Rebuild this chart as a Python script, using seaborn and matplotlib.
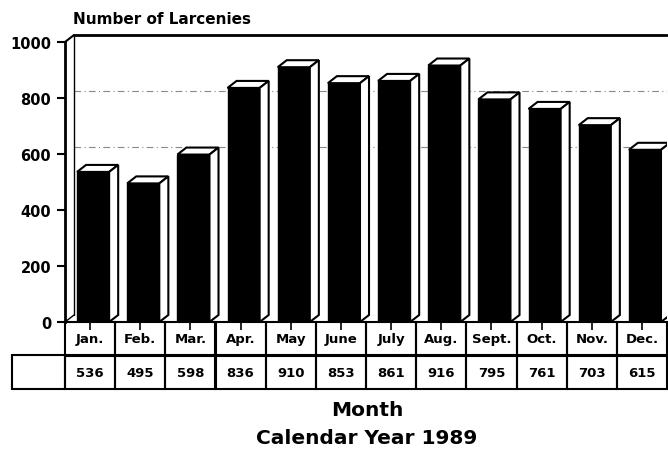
import matplotlib
matplotlib.use("Agg")
import matplotlib.pyplot as plt
from matplotlib.patches import Polygon
import seaborn as sns
import pandas as pd

months = ["Jan.", "Feb.", "Mar.", "Apr.", "May", "June", "July", "Aug.",
          "Sept.", "Oct.", "Nov.", "Dec."]
larcenies = [536, 495, 598, 836, 910, 853, 861, 916, 795, 761, 703, 615]
y_ticks = [0, 200, 400, 600, 800, 1000]
grid_levels = [600, 800]

sns.set_style("white")
plt.rcParams["font.family"] = ["DejaVu Sans"]
plt.rcParams["text.color"] = "black"
plt.rcParams["axes.labelcolor"] = "black"
plt.rcParams["xtick.color"] = "black"
plt.rcParams["ytick.color"] = "black"

df = pd.DataFrame({"month": months, "count": larcenies})

fig = plt.figure(figsize=(6.68, 4.52), dpi=100)
W, H = 668, 452
ax = fig.add_axes([65 / W, (H - 323) / H, 602 / W, 287 / H])

sns.barplot(data=df, x="month", y="count", color="black", width=0.64,
            saturation=1, ax=ax, zorder=3, edgecolor="black", linewidth=1)

dx = 0.18   # depth in category units
dy = 25     # depth in data units

for p in ax.patches:
    p.set_x(p.get_x() + 0.06)
    x, w, h = p.get_x(), p.get_width(), p.get_height()
    top = Polygon([(x, h), (x + dx, h + dy), (x + w + dx, h + dy), (x + w, h)],
                  closed=True, facecolor="white", edgecolor="black", lw=1.5, zorder=3)
    side = Polygon([(x + w, 0), (x + w, h), (x + w + dx, h + dy), (x + w + dx, dy)],
                   closed=True, facecolor="white", edgecolor="black", lw=1.5, zorder=3)
    ax.add_patch(top)
    ax.add_patch(side)

ax.set_xlim(-0.5, 11.5)
ax.set_ylim(0, 1000 + dy)

# back wall gridlines
for v in grid_levels:
    ax.plot([-0.5 + dx, 11.5], [v + dy, v + dy], color="#888888", lw=0.8,
            ls=(0, (6, 3, 1, 3)), zorder=1)

# frame: front axis, diagonal, back wall, top
ax.plot([-0.5, -0.5 + dx], [1000, 1000 + dy], color="black", lw=1.5, zorder=4, clip_on=False)
ax.plot([-0.5 + dx, -0.5 + dx], [dy, 1000 + dy], color="black", lw=1.0, zorder=2, clip_on=False)
ax.plot([-0.5 + dx, 11.5], [1000 + dy, 1000 + dy], color="black", lw=2.0, zorder=4, clip_on=False)
ax.plot([-0.5, -0.5 + dx], [0, dy], color="black", lw=1.0, zorder=2, clip_on=False)

for s in ["top", "right", "bottom"]:
    ax.spines[s].set_visible(False)
ax.spines["left"].set_bounds(0, 1000)
ax.spines["left"].set_linewidth(2)
ax.spines["left"].set_color("black")

ax.set_yticks(y_ticks)
ax.set_yticklabels([str(t) for t in y_ticks], fontsize=10.5, fontweight="bold")
ax.tick_params(axis="y", length=6, width=1.5, color="black", left=True, pad=4)
ax.set_xticks(range(len(months)))
ax.set_xticklabels([""] * len(months))
ax.tick_params(axis="x", length=6, width=1.2, color="black", bottom=True, direction="out")
ax.set_xlabel("")
ax.set_ylabel("")

# data table under the chart
cell_text = [[""] + months, [""] + [str(v) for v in larcenies]]
col_w = [53] + [602 / 12] * 12
tbl = ax.table(cellText=cell_text, colWidths=col_w, cellLoc="center",
               bbox=[-53 / 602, -67 / 287, 655 / 602, 67 / 287])
tbl.auto_set_font_size(False)
for (r, c), cell in tbl.get_celld().items():
    cell.set_facecolor("none")
    cell.set_edgecolor("black")
    cell.set_linewidth(1.5)
    cell.get_text().set_fontweight("bold")
    cell.get_text().set_fontsize(9.5)
    cell.get_text().set_color("black")
    if r == 0 and c == 0:
        cell.visible_edges = ""

fig.text(73 / W, 1 - 20 / H, "Number of Larcenies", ha="left", va="center",
         fontsize=11, fontweight="bold")
fig.text(367 / W, 1 - 411 / H, "Month", ha="center", va="center",
         fontsize=14.5, fontweight="bold")
fig.text(367 / W, 1 - 439 / H, "Calendar Year 1989", ha="center", va="center",
         fontsize=14.5, fontweight="bold")

fig.savefig("out.png", dpi=100)
